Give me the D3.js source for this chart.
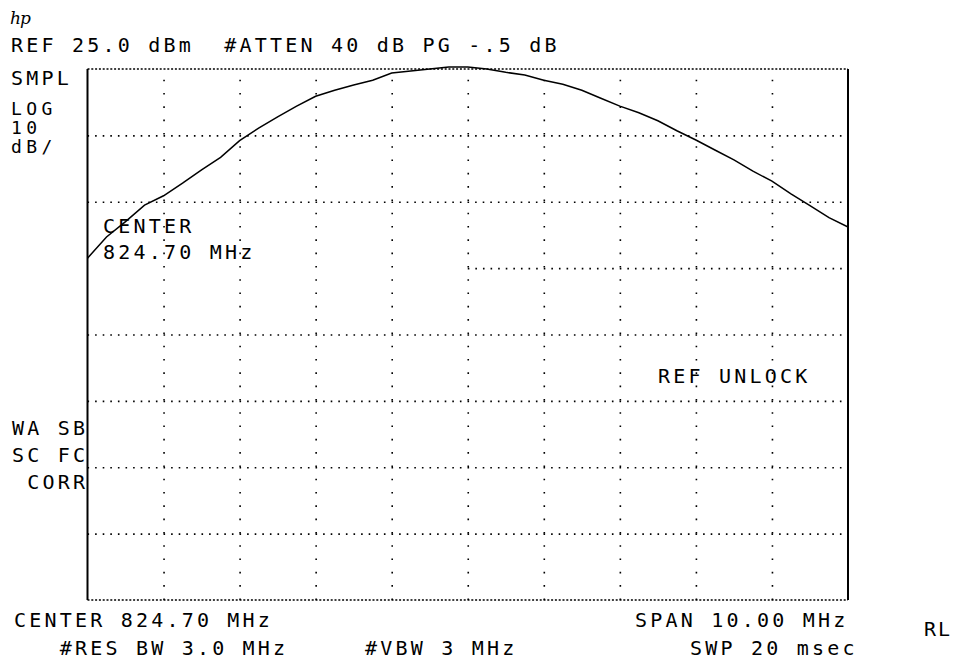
<!DOCTYPE html>
<html>
<head>
<meta charset="utf-8">
<script src="https://cdn.jsdelivr.net/npm/d3@7"></script>
<style>
  html, body { margin: 0; padding: 0; background: #fff; }
  svg { display: block; }
  .lbl { font-family: "DejaVu Sans Mono", monospace; font-size: 20px; letter-spacing: 3.2px; fill: #000; }
</style>
</head>
<body>
<div id="chart"></div>
<script>
// sweep: 819.70 .. 829.70 MHz, read every 0.25 MHz off the screen
const freqMHz = [
  819.70, 819.95, 820.20, 820.45, 820.70, 820.95, 821.20, 821.45, 821.70, 821.95,
  822.20, 822.45, 822.70, 822.95, 823.20, 823.45, 823.70, 823.95, 824.20, 824.45,
  824.70, 824.95, 825.20, 825.45, 825.70, 825.95, 826.20, 826.45, 826.70, 826.95,
  827.20, 827.45, 827.70, 827.95, 828.20, 828.45, 828.70, 828.95, 829.20, 829.45, 829.70
];
const levelDbm = [
  -3.5, -0.3, 2.0, 4.5, 5.9, 7.8, 9.8, 11.7, 14.2, 16.1,
  17.8, 19.4, 20.9, 21.8, 22.6, 23.3, 24.4, 24.7, 25.0, 25.3,
  25.3, 25.0, 24.5, 24.1, 23.3, 22.7, 21.8, 20.6, 19.4, 18.4,
  17.2, 15.7, 14.3, 12.8, 11.3, 9.6, 8.1, 6.2, 4.4, 2.6, 1.2
];

// 10 div x 8 div graticule, REF 25 dBm, 10 dB/div
const freqGrid = [820.7, 821.7, 822.7, 823.7, 824.7, 825.7, 826.7, 827.7, 828.7];
const levelGrid = [15, 5, -5, -15, -25, -35, -45];
const freqDomain = [819.7, 829.7];
const levelDomain = [-55, 25];

const headerText = 'REF 25.0 dBm  #ATTEN 40 dB PG -.5 dB';
const leftTopLabels = ['SMPL', 'LOG', '10', 'dB/'];
const leftBottomLabels = ['WA SB', 'SC FC', ' CORR'];
const markerLabels = ['CENTER', '824.70 MHz'];
const statusText = 'REF UNLOCK';
const footerLeft = ['CENTER 824.70 MHz', '   #RES BW 3.0 MHz'];
const footerMid = '#VBW 3 MHz';
const footerRight = ['SPAN 10.00 MHz', 'SWP 20 msec'];
const cornerText = 'RL';

const W = 953, H = 661;
const plot = { left: 87.5, right: 848, top: 69, bottom: 600 };

const svg = d3.select('#chart').append('svg')
  .attr('width', W)
  .attr('height', H);

const x = d3.scaleLinear().domain(freqDomain).range([plot.left, plot.right]);
const y = d3.scaleLinear().domain(levelDomain).range([plot.bottom, plot.top]);

// vertical dotted graticule
svg.append('g')
  .attr('transform', `translate(0,${plot.bottom})`)
  .call(d3.axisBottom(x).tickValues(freqGrid).tickSize(-(plot.bottom - plot.top)).tickFormat(''))
  .call(g => g.select('.domain').remove())
  .call(g => g.selectAll('line')
    .attr('stroke', '#000')
    .attr('stroke-width', 1.6)
    .attr('stroke-dasharray', '1.6 11.7'));

// horizontal dotted graticule; the annotation block blanks the left half of one line
svg.append('g')
  .attr('transform', `translate(${plot.left},0)`)
  .call(d3.axisLeft(y).tickValues(levelGrid).tickSize(-(plot.right - plot.left)).tickFormat(''))
  .call(g => g.select('.domain').remove())
  .call(g => g.selectAll('line')
    .attr('stroke', '#000')
    .attr('stroke-width', 1.6)
    .attr('stroke-dasharray', '1.6 6.0'))
  .call(g => g.selectAll('.tick').filter(d => d === -5).select('line')
    .attr('x2', plot.right - plot.left)
    .attr('x1', x(824.7) - plot.left));

// top and bottom frame: dense dots, sides solid
[levelDomain[1], levelDomain[0]].forEach(v => {
  svg.append('line')
    .attr('x1', plot.left).attr('x2', plot.right)
    .attr('y1', y(v)).attr('y2', y(v))
    .attr('stroke', '#000').attr('stroke-width', 1.6).attr('stroke-dasharray', '2 1.8');
});
[freqDomain[0], freqDomain[1]].forEach(f => {
  svg.append('line')
    .attr('x1', x(f)).attr('x2', x(f))
    .attr('y1', y(levelDomain[1])).attr('y2', y(levelDomain[0]))
    .attr('stroke', '#000').attr('stroke-width', 2);
});

// trace
const trace = freqMHz.map((f, i) => ({ f, v: levelDbm[i] }));
svg.append('path')
  .datum(trace)
  .attr('fill', 'none')
  .attr('stroke', '#000')
  .attr('stroke-width', 1.5)
  .attr('d', d3.line().x(d => x(d.f)).y(d => y(d.v)));

// labels
const text = (str, tx, ty) => svg.append('text')
  .attr('class', 'lbl')
  .attr('x', tx)
  .attr('y', ty)
  .attr('xml:space', 'preserve')
  .style('white-space', 'pre')
  .text(str);

svg.append('text')
  .attr('x', 10).attr('y', 24)
  .style('font-family', '"DejaVu Serif", serif')
  .style('font-style', 'italic')
  .style('font-size', '17px')
  .style('letter-spacing', '-1px')
  .text('hp');

text(headerText, 11, 52);
text(leftTopLabels[0], 11, 85);
// LOG / 10 / dB/ sit on a tight pitch on the instrument screen
[115, 134, 153].forEach((ty, i) => text(leftTopLabels[i + 1], 11, ty).style('font-size', '18px').style('letter-spacing', '4.4px'));
[435, 462, 489].forEach((ty, i) => text(leftBottomLabels[i], 12, ty));
text(markerLabels[0], 103, 233);
text(markerLabels[1], 103, 259);
text(statusText, 658, 383);
text(footerLeft[0], 14, 627);
text(footerLeft[1], 14, 655);
text(footerMid, 365, 655);
text(footerRight[0], 635, 627);
text(footerRight[1], 690, 655);
text(cornerText, 924, 636).style('letter-spacing', '2px');
</script>
</body>
</html>
